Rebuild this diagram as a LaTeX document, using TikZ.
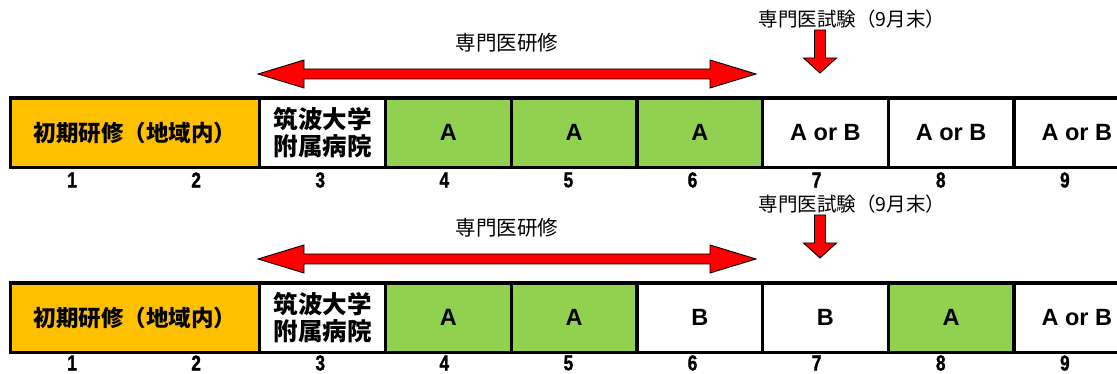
\documentclass[tikz,border=0pt]{standalone}
\usepackage{fontspec}
\setmainfont{Liberation Sans}
\newfontfamily\jp{Noto Sans CJK JP}
\newfontfamily\numfont{Liberation Sans}[FakeStretch=0.8,FakeBold=1.5]
\definecolor{orangeY}{HTML}{FFC000}
\definecolor{greenA}{HTML}{92D050}
\begin{document}
\begin{tikzpicture}[x=1pt,y=-1pt,
 cell/.style={draw=black,line width=1.6pt,minimum width=124.1pt,minimum height=68pt,inner sep=0pt,anchor=north west,align=center,font=\bfseries\fontsize{23.5}{26}\selectfont},
 jpcell/.style={cell,font=\jp\bfseries\fontsize{22.5}{27}\selectfont},
 unicell/.style={cell,font=\jp\bfseries\fontsize{24.5}{27}\selectfont},
 greencell/.style={cell,fill=greenA},
 whitecell/.style={cell,fill=white},
 num/.style={font=\numfont\bfseries\fontsize{21.5}{21.5}\selectfont,inner sep=0pt},
 lbl/.style={font=\jp\fontsize{20.5}{22}\selectfont,inner sep=0pt},
 examlbl/.style={font=\jp\fontsize{19.5}{22}\selectfont,inner sep=0pt},
 redarrow/.style={fill=red,draw=black,line width=0.9pt,line join=miter},
 dblarrow/.pic={\path[redarrow] (0,0) -- (46,-14) -- (46,-5) -- (452,-5) -- (452,-14) -- (498,0) -- (452,14) -- (452,5) -- (46,5) -- (46,14) -- cycle;},
 downarrow/.pic={\path[redarrow] (0,0) -- (-16.5,-15) -- (-5.5,-15) -- (-5.5,-43) -- (5.5,-43) -- (5.5,-15) -- (16.5,-15) -- cycle;}]
\useasboundingbox (0,0) rectangle (1117,374);
% ---------- top row ----------
\node[jpcell,fill=orangeY,minimum width=248.2pt] (t12) at (10,98) {初期研修（地域内）};
\node[unicell,fill=white] (t3) at (t12.north east) {筑波大学\\附属病院};
\node[greencell] (t4) at (t3.north east) {A};
\node[greencell] (t5) at (t4.north east) {A};
\node[greencell] (t6) at (t5.north east) {A};
\node[whitecell] (t7) at (t6.north east) {A or B};
\node[whitecell] (t8) at (t7.north east) {A or B};
\node[whitecell] (t9) at (t8.north east) {A or B};
\draw[line width=3pt] (t12.north west) rectangle (t9.south east);
\foreach \k in {1,...,9} \node[num] (tn\k) at ({10+124.1*(\k-0.5)},180) {\k};
\node[lbl] (tl) at (507,43) {専門医研修};
\node[examlbl] (te) at (852,19) {専門医試験（9月末）};
\pic at (258,74) {dblarrow};
\pic at (820,73) {downarrow};
% ---------- bottom row ----------
\node[jpcell,fill=orangeY,minimum width=248.2pt] (b12) at (10,283) {初期研修（地域内）};
\node[unicell,fill=white] (b3) at (b12.north east) {筑波大学\\附属病院};
\node[greencell] (b4) at (b3.north east) {A};
\node[greencell] (b5) at (b4.north east) {A};
\node[whitecell] (b6) at (b5.north east) {B};
\node[whitecell] (b7) at (b6.north east) {B};
\node[greencell] (b8) at (b7.north east) {A};
\node[whitecell] (b9) at (b8.north east) {A or B};
\draw[line width=3pt] (b12.north west) rectangle (b9.south east);
\foreach \k in {1,...,9} \node[num] (bn\k) at ({10+124.1*(\k-0.5)},363) {\k};
\node[lbl] (bl) at (507,228) {専門医研修};
\node[examlbl] (be) at (852,204) {専門医試験（9月末）};
\pic at (258,259) {dblarrow};
\pic at (820,258) {downarrow};
\end{tikzpicture}
\end{document}
